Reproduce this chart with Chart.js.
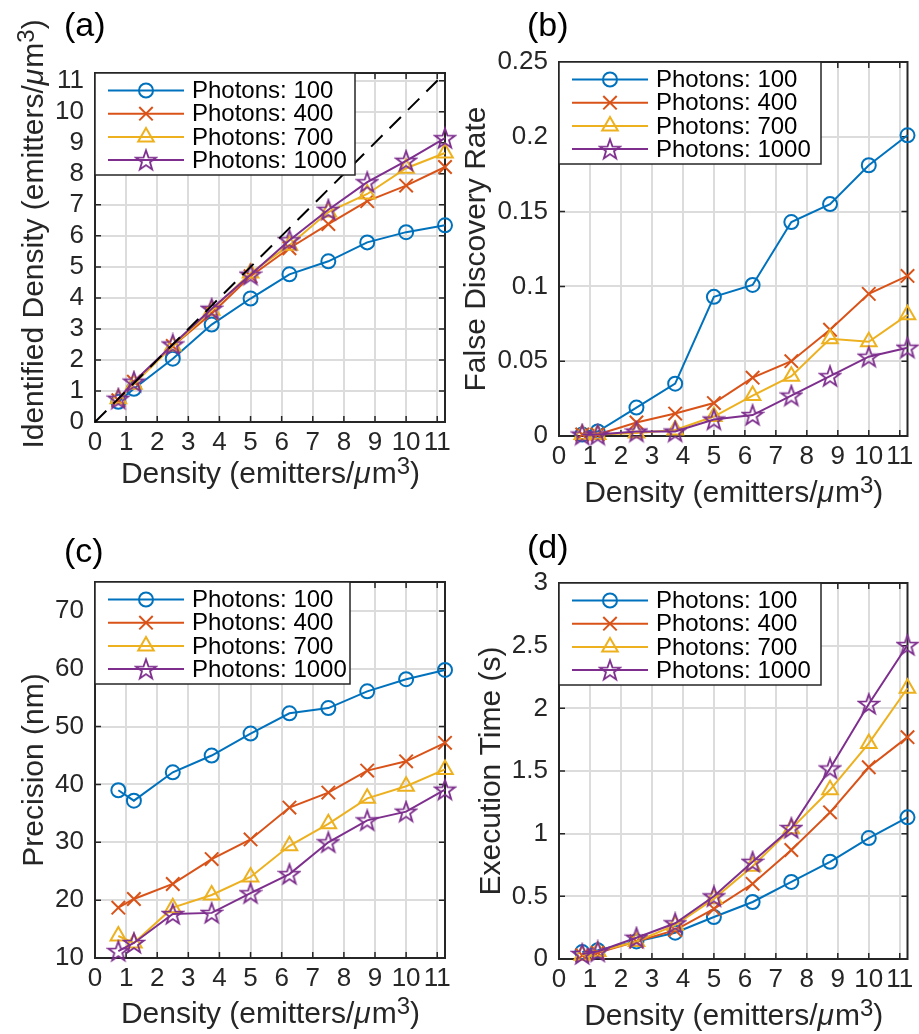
<!DOCTYPE html>
<html>
<head>
<meta charset="utf-8">
<script src="https://cdn.jsdelivr.net/npm/chart.js@4.4.0/dist/chart.umd.min.js"></script>
<style>
  body { margin: 0; background: #fff; }
  #wrap { position: relative; width: 919px; height: 1034px; }
  .panel { position: absolute; }
</style>
</head>
<body>
<div id="wrap">
  <div class="panel" style="left:0;top:0"><canvas id="pa" width="460" height="517"></canvas></div>
  <div class="panel" style="left:460px;top:0"><canvas id="pb" width="459" height="517"></canvas></div>
  <div class="panel" style="left:0;top:517px"><canvas id="pc" width="460" height="517"></canvas></div>
  <div class="panel" style="left:460px;top:517px"><canvas id="pd" width="459" height="517"></canvas></div>
</div>
<script>
// data
const density = [0.75, 1.25, 2.5, 3.75, 5, 6.25, 7.5, 8.75, 10, 11.25];
const seriesLabels = ['Photons: 100', 'Photons: 400', 'Photons: 700', 'Photons: 1000'];
const xTicks = [0, 1, 2, 3, 4, 5, 6, 7, 8, 9, 10, 11];
const diagLine = [0, 11.25];

const identified100 = [0.65, 1.07, 2.04, 3.14, 3.98, 4.76, 5.18, 5.79, 6.12, 6.34];
const identified400 = [0.7, 1.3, 2.45, 3.5, 4.7, 5.6, 6.38, 7.12, 7.62, 8.22];
const identified700 = [0.75, 1.22, 2.45, 3.6, 4.8, 5.7, 6.77, 7.35, 8.18, 8.67];
const identified1000 = [0.75, 1.3, 2.5, 3.65, 4.75, 5.86, 6.84, 7.73, 8.42, 9.15];
const identTicks = [0, 1, 2, 3, 4, 5, 6, 7, 8, 9, 10, 11];

const fdr100 = [0.001, 0.003, 0.019, 0.035, 0.093, 0.101, 0.143, 0.155, 0.181, 0.201];
const fdr400 = [0.001, 0.001, 0.009, 0.015, 0.022, 0.039, 0.05, 0.071, 0.095, 0.107];
const fdr700 = [0.001, 0.001, 0.002, 0.004, 0.013, 0.027, 0.04, 0.065, 0.063, 0.081];
const fdr1000 = [0.001, 0.001, 0.003, 0.003, 0.011, 0.014, 0.027, 0.04, 0.053, 0.059];
const fdrTicks = [0, 0.05, 0.1, 0.15, 0.2, 0.25];
const fdrTickLabels = ['0', '0.05', '0.1', '0.15', '0.2', '0.25'];

const prec100 = [39, 37.2, 42.1, 45, 48.8, 52.3, 53.2, 56.1, 58.2, 59.8];
const prec400 = [18.7, 20.2, 22.8, 27.1, 30.5, 36, 38.6, 42.4, 44, 47.2];
const prec700 = [13.8, 12.6, 18.7, 20.9, 24, 29.4, 33.2, 37.6, 39.7, 42.6];
const prec1000 = [11.2, 12.6, 17.6, 17.8, 21.2, 24.5, 30, 33.8, 35.3, 39.1];
const precTicks = [10, 20, 30, 40, 50, 60, 70];

const time100 = [0.055, 0.07, 0.14, 0.21, 0.335, 0.455, 0.615, 0.775, 0.965, 1.13];
const time400 = [0.03, 0.05, 0.14, 0.23, 0.4, 0.6, 0.87, 1.17, 1.53, 1.77];
const time700 = [0.03, 0.06, 0.14, 0.27, 0.48, 0.74, 1.04, 1.35, 1.72, 2.16];
const time1000 = [0.04, 0.06, 0.17, 0.285, 0.5, 0.775, 1.045, 1.52, 2.035, 2.505];
const timeTicks = [0, 0.5, 1, 1.5, 2, 2.5, 3];
const timeTickLabels = ['0', '0.5', '1', '1.5', '2', '2.5', '3'];

const colors = ['#0072BD', '#D95319', '#EDB120', '#7E2F8E'];
const axisColor = '#262626';
const gridColor = '#dcdcdc';
const FONT = '"Liberation Sans", Arial, Helvetica, sans-serif';
const tickSize = 26, titleSize = 30, legendSize = 24, panelSize = 34;

// pentagram marker like matlab's
function makeStar(color) {
  const c = document.createElement('canvas');
  c.width = 24; c.height = 24;
  const g = c.getContext('2d');
  g.strokeStyle = color;
  g.lineWidth = 1.8;
  g.beginPath();
  for (let k = 0; k < 10; k++) {
    const r = k % 2 === 0 ? 10.5 : 4.2;
    const ang = -Math.PI / 2 + k * Math.PI / 5;
    const px = 12 + r * Math.cos(ang), py = 12.8 + r * Math.sin(ang);
    if (k === 0) g.moveTo(px, py); else g.lineTo(px, py);
  }
  g.closePath();
  g.stroke();
  return c;
}
const markers = ['circle', 'crossRot', 'triangle', makeStar(colors[3])];
const markerRadius = [7, 9.5, 9, 8];

const xTitle = [['Density (emitters/'], ['μ', 'i'], ['m'], ['3', 's'], [')']];

const panels = {
  pa: { label: '(a)', lx: 64, ly: 36, top: 73, right: 15, yw: 95, bottom: 422,
        ymin: 0, ymax: 11.25, yticks: identTicks, ylabels: null,
        values: [identified100, identified400, identified700, identified1000],
        yTitle: [['Identified Density (emitters/'], ['μ', 'i'], ['m'], ['3', 's'], [')']],
        yTitleX: 52, yShift: -13, xTitleDy: 61, legendW: 260, diag: true },
  pb: { label: '(b)', lx: 67, ly: 36, top: 62, right: 8, yw: 99, bottom: 436,
        ymin: 0, ymax: 0.25, yticks: fdrTicks, ylabels: fdrTickLabels,
        values: [fdr100, fdr400, fdr700, fdr1000],
        yTitle: [['False Discovery Rate']], yTitleX: 74, yShift: 0, xTitleDy: 66, legendW: 262 },
  pc: { label: '(c)', lx: 64, ly: 45, top: 65, right: 15, yw: 95, bottom: 441,
        ymin: 10, ymax: 75, yticks: precTicks, ylabels: null,
        values: [prec100, prec400, prec700, prec1000],
        yTitle: [['Precision (nm)']], yTitleX: 52, yShift: 0, xTitleDy: 65, legendW: 255 },
  pd: { label: '(d)', lx: 67, ly: 41, top: 66, right: 8, yw: 99, bottom: 442,
        ymin: 0, ymax: 3, yticks: timeTicks, ylabels: timeTickLabels,
        values: [time100, time400, time700, time1000],
        yTitle: [['Execution Time (s)']], yTitleX: 59, yShift: 0, xTitleDy: 66, legendW: 262 }
};

function segFont(seg, size) {
  const s = seg[1] === 's' ? size * 0.8 : size;
  return (seg[1] === 'i' ? 'italic ' : '') + s + 'px ' + FONT;
}
function drawRich(ctx, segs, size) {
  // draws centered on 0 with baseline at 0
  let total = 0;
  const widths = segs.map(sg => { ctx.font = segFont(sg, size); const w = ctx.measureText(sg[0]).width; total += w; return w; });
  let x = -total / 2;
  ctx.textAlign = 'left';
  ctx.textBaseline = 'alphabetic';
  segs.forEach((sg, i) => {
    ctx.font = segFont(sg, size);
    ctx.fillText(sg[0], x, sg[1] === 's' ? -size * 0.3 : 0);
    x += widths[i] + (sg[1] === 'i' ? 1 : 0);
  });
}

const matlabPlugin = {
  id: 'matlab',
  beforeDatasetsDraw(chart) {
    const { ctx, chartArea: a, scales: { x, y } } = chart;
    const tl = 6;
    ctx.save();
    ctx.strokeStyle = axisColor;
    ctx.lineWidth = 1.5;
    ctx.beginPath();
    x.ticks.forEach(t => {
      const px = x.getPixelForValue(t.value);
      ctx.moveTo(px, a.bottom); ctx.lineTo(px, a.bottom - tl);
      ctx.moveTo(px, a.top); ctx.lineTo(px, a.top + tl);
    });
    y.ticks.forEach(t => {
      const py = y.getPixelForValue(t.value);
      ctx.moveTo(a.left, py); ctx.lineTo(a.left + tl, py);
      ctx.moveTo(a.right, py); ctx.lineTo(a.right - tl, py);
    });
    ctx.stroke();
    ctx.lineWidth = 2;
    ctx.strokeRect(a.left, a.top, a.right - a.left, a.bottom - a.top);
    ctx.restore();
  },
  afterDraw(chart) {
    const p = panels[chart.canvas.id];
    const { ctx, chartArea: a } = chart;
    ctx.save();
    ctx.fillStyle = axisColor;
    // x title
    ctx.save();
    ctx.translate((a.left + a.right) / 2, a.bottom + p.xTitleDy);
    drawRich(ctx, xTitle, titleSize);
    ctx.restore();
    // y title
    ctx.save();
    ctx.translate(a.left - p.yTitleX, (a.top + a.bottom) / 2 + p.yShift);
    ctx.rotate(-Math.PI / 2);
    drawRich(ctx, p.yTitle, titleSize);
    ctx.restore();
    // panel label
    ctx.fillStyle = '#000';
    ctx.font = panelSize + 'px ' + FONT;
    ctx.textAlign = 'left';
    ctx.textBaseline = 'alphabetic';
    ctx.fillText(p.label, p.lx, p.ly);

    // legend box
    const lx = a.left, ly = a.top, lw = p.legendW, lh = 102;
    ctx.fillStyle = '#fff';
    ctx.fillRect(lx, ly, lw, lh);
    ctx.strokeStyle = axisColor;
    ctx.lineWidth = 1.5;
    ctx.strokeRect(lx, ly, lw, lh);
    seriesLabels.forEach((lab, i) => {
      const yy = ly + 17.5 + i * 23.2;
      ctx.strokeStyle = colors[i];
      ctx.lineWidth = 2;
      ctx.beginPath();
      ctx.moveTo(lx + 13, yy); ctx.lineTo(lx + 89, yy);
      ctx.stroke();
      ctx.fillStyle = 'rgba(0,0,0,0)';
      Chart.helpers.drawPoint(ctx, { pointStyle: markers[i], radius: markerRadius[i], borderWidth: 2, rotation: 0 }, lx + 51, yy);
      ctx.fillStyle = '#000';
      ctx.font = legendSize + 'px ' + FONT;
      ctx.textAlign = 'left';
      ctx.textBaseline = 'middle';
      ctx.fillText(lab, lx + 97, yy + 1);
    });
    ctx.restore();
  }
};

function makeChart(id) {
  const p = panels[id];
  const canvas = document.getElementById(id);
  const datasets = p.values.map((vals, i) => ({
    label: seriesLabels[i],
    data: density.map((d, j) => ({ x: d, y: vals[j] })),
    borderColor: colors[i],
    borderWidth: 2,
    pointStyle: markers[i],
    pointRadius: markerRadius[i],
    pointBorderWidth: 2,
    pointBorderColor: colors[i],
    pointBackgroundColor: 'rgba(0,0,0,0)',
    tension: 0,
    clip: false,
    order: 5 - i
  }));
  if (p.diag) {
    datasets.push({
      label: 'ideal',
      data: diagLine.map(v => ({ x: v, y: v })),
      borderColor: '#000',
      borderWidth: 2,
      borderDash: [16, 10],
      pointRadius: 0,
      clip: false,
      order: 0
    });
  }
  new Chart(canvas, {
    type: 'line',
    data: { datasets },
    plugins: [matlabPlugin],
    options: {
      responsive: false,
      animation: false,
      devicePixelRatio: 1,
      layout: { padding: { top: p.top, right: p.right, left: 0, bottom: 0 } },
      plugins: { legend: { display: false }, tooltip: { enabled: false } },
      scales: {
        x: {
          type: 'linear', min: 0, max: 11.25,
          afterBuildTicks: s => { s.ticks = xTicks.map(v => ({ value: v })); },
          afterFit: s => { s.height = canvas.height - p.bottom; },
          ticks: { autoSkip: false, maxRotation: 0, padding: 5, color: axisColor,
                   font: { family: FONT, size: tickSize }, callback: v => String(v) },
          grid: { color: gridColor, lineWidth: 2, drawTicks: false },
          border: { display: false }
        },
        y: {
          type: 'linear', min: p.ymin, max: p.ymax,
          afterBuildTicks: s => { s.ticks = p.yticks.map(v => ({ value: v })); },
          afterFit: s => { s.width = p.yw; },
          ticks: { autoSkip: false, padding: 11, color: axisColor,
                   font: { family: FONT, size: tickSize },
                   callback: (v, i) => p.ylabels ? p.ylabels[i] : String(v) },
          grid: { color: gridColor, lineWidth: 2, drawTicks: false },
          border: { display: false }
        }
      }
    }
  });
}

['pa', 'pb', 'pc', 'pd'].forEach(makeChart);
</script>
</body>
</html>
